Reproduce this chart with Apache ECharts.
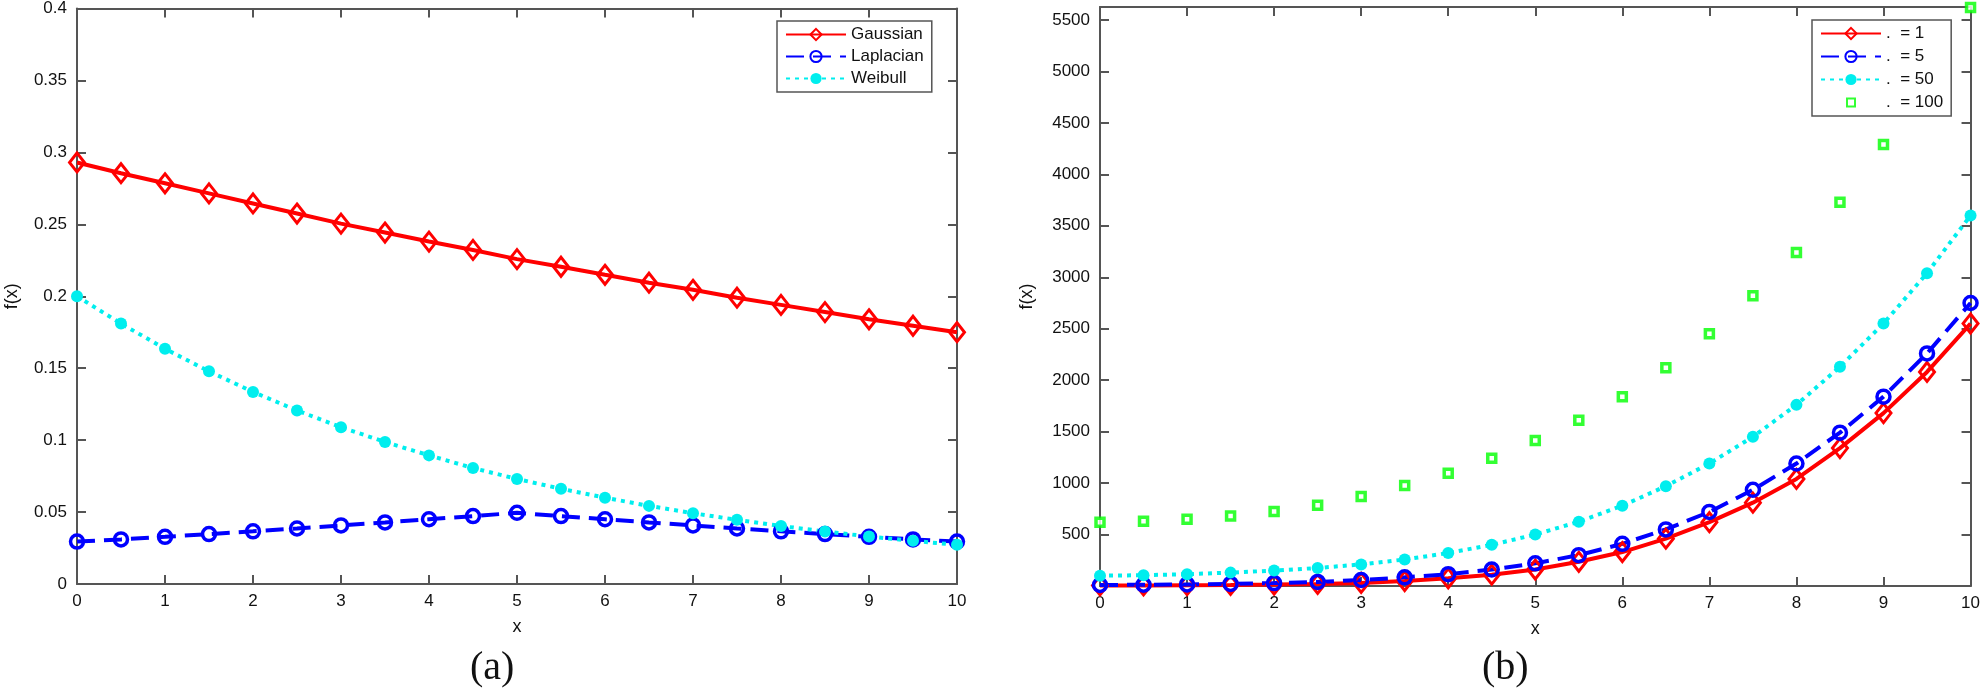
<!DOCTYPE html>
<html>
<head>
<meta charset="utf-8">
<script src="https://cdn.jsdelivr.net/npm/echarts@6/dist/echarts.min.js"></script>
<style>
html,body{margin:0;padding:0;background:#fff;}
#c{width:1983px;height:700px;}
</style>
</head>
<body>
<div id="c"></div>
<script>
// ---- data ----
const xValues = [0,0.5,1,1.5,2,2.5,3,3.5,4,4.5,5,5.5,6,6.5,7,7.5,8,8.5,9,9.5,10];
const xTicks = [0,1,2,3,4,5,6,7,8,9,10];
// panel (a)
const gaussian = [0.293,0.2855,0.2785,0.2715,0.2645,0.2575,0.2505,0.2443,0.238,0.2322,0.2258,0.2205,0.2149,0.2094,0.2045,0.199,0.194,0.189,0.184,0.1795,0.175];
const laplacian = [0.0295,0.031,0.0328,0.0347,0.0366,0.0386,0.0407,0.0428,0.045,0.0472,0.0495,0.0472,0.045,0.0428,0.0407,0.0386,0.0366,0.0347,0.0328,0.031,0.0295];
const weibull = [0.2,0.181,0.1635,0.1478,0.1335,0.1206,0.109,0.0987,0.0894,0.0806,0.073,0.0662,0.06,0.0543,0.0492,0.0446,0.0403,0.0365,0.033,0.03,0.0272];
const yTicksA = [0,0.05,0.1,0.15,0.2,0.25,0.3,0.35,0.4];
// panel (b)
const lambda1 = [5,6,8,10,14,20,30,48,75,110,160,235,330,460,620,810,1040,1340,1680,2080,2550];
const lambda5 = [10,12,15,20,28,40,58,84,115,160,220,300,410,550,720,935,1190,1490,1840,2260,2750];
const lambda50 = [100,105,115,130,150,175,210,258,320,400,500,625,780,970,1190,1450,1760,2130,2550,3040,3600];
const lambda100 = [620,630,648,680,725,785,870,976,1095,1241,1413,1610,1840,2120,2450,2820,3240,3730,4290,4920,5620];
const yTicksB = [500,1000,1500,2000,2500,3000,3500,4000,4500,5000,5500];
const namesA = ['Gaussian','Laplacian','Weibull'];
const namesB = ['.  = 1','.  = 5','.  = 50','.  = 100'];

const pairs = (ys) => xValues.map((x,i)=>[x, ys[i]]);

const FONT = '"Liberation Sans", Arial, sans-serif';
const AX = '#555555';
const RED = '#ff0000', BLUE = '#0000ff', CYAN = '#00eeee', GREEN = '#00ff00';

function xAxisPair(gi){
  return [
    {type:'value', gridIndex:gi, position:'bottom', min:0, max:10, interval:1,
     axisLine:{show:true,onZero:false,lineStyle:{color:AX,width:2}},
     axisTick:{show:true,inside:true,length:9,lineStyle:{color:AX,width:2}},
     axisLabel:{show:true,color:'#111',fontFamily:FONT,fontSize:17,margin:9},
     splitLine:{show:false},
     name:'x', nameLocation:'middle', nameGap:34,
     nameTextStyle:{color:'#111',fontFamily:FONT,fontSize:18}},
    {type:'value', gridIndex:gi, position:'top', min:0, max:10, interval:1,
     axisLine:{show:true,onZero:false,lineStyle:{color:AX,width:2}},
     axisTick:{show:true,inside:true,length:9,lineStyle:{color:AX,width:2}},
     axisLabel:{show:false}, splitLine:{show:false}}
  ];
}
function yAxisPair(gi, min, max, interval, fmt, gap){
  return [
    {type:'value', gridIndex:gi, position:'left', min:min, max:max, interval:interval,
     axisLine:{show:true,onZero:false,lineStyle:{color:AX,width:2}},
     axisTick:{show:true,inside:true,length:9,lineStyle:{color:AX,width:2}},
     axisLabel:{show:true,color:'#111',fontFamily:FONT,fontSize:17,margin:10,formatter:fmt,showMaxLabel:true},
     splitLine:{show:false},
     name:'f(x)', nameLocation:'middle', nameGap:gap, nameRotate:90,
     nameTextStyle:{color:'#111',fontFamily:FONT,fontSize:18}},
    {type:'value', gridIndex:gi, position:'right', min:min, max:max, interval:interval,
     axisLine:{show:true,onZero:false,lineStyle:{color:AX,width:2}},
     axisTick:{show:true,inside:true,length:9,lineStyle:{color:AX,width:2}},
     axisLabel:{show:false}, splitLine:{show:false}}
  ];
}

const fmtA = v => yTicksA.some(t => Math.abs(t - v) < 1e-9) ? String(+v.toFixed(2)) : '';
const fmtB = v => yTicksB.indexOf(Math.round(v)) >= 0 && Math.abs(Math.round(v)-v) < 1e-6 ? String(Math.round(v)) : '';

const chart = echarts.init(document.getElementById('c'), null, {renderer:'canvas'});

const legendBase = {
  orient:'vertical', backgroundColor:'#ffffff', borderColor:AX, borderWidth:1.5,
  itemWidth:60, itemHeight:14, itemGap:5, padding:[5,8,5,8],
  textStyle:{color:'#111',fontFamily:FONT,fontSize:17},
  selectedMode:false
};

const squareIcon = 'path://M0,0L0,0M3,3L11,3L11,11L3,11ZM14,14L14,14';

const option = {
  animation:false,
  grid:[
    {left:77, top:7, width:880, height:577, containLabel:false},
    {left:1100, top:7, width:872, height:579, containLabel:false}
  ],
  xAxis:[...xAxisPair(0), ...xAxisPair(1)],
  yAxis:[...yAxisPair(0, 0, 0.4, 0.05, fmtA, 56), ...yAxisPair(1, 0, 5626, 500, fmtB, 64)],
  legend:[
    Object.assign({}, legendBase, {left:777, top:21, data:namesA}),
    Object.assign({}, legendBase, {left:1812, top:20, itemGap:6,
      data:[namesB[0], namesB[1], namesB[2], {name:namesB[3], icon:squareIcon}]})
  ],
  series:[
    {name:namesA[0], type:'line', xAxisIndex:0, yAxisIndex:0, data:pairs(gaussian), clip:false,
     lineStyle:{color:RED,width:4}, symbol:'diamond', symbolSize:[15,19],
     itemStyle:{color:'rgba(255,255,255,0)',borderColor:RED,borderWidth:3}},
    {name:namesA[1], type:'line', xAxisIndex:0, yAxisIndex:0, data:pairs(laplacian), clip:false,
     lineStyle:{color:BLUE,width:4,type:[18,9]}, symbol:'circle', symbolSize:13,
     itemStyle:{color:'rgba(255,255,255,0)',borderColor:BLUE,borderWidth:3.5}},
    {name:namesA[2], type:'line', xAxisIndex:0, yAxisIndex:0, data:pairs(weibull), clip:false,
     lineStyle:{color:CYAN,width:4,type:[4,5]}, symbol:'circle', symbolSize:12,
     itemStyle:{color:CYAN,borderColor:CYAN,borderWidth:0}},
    {name:namesB[0], type:'line', xAxisIndex:2, yAxisIndex:2, data:pairs(lambda1), clip:false,
     lineStyle:{color:RED,width:4}, symbol:'diamond', symbolSize:[15,19],
     itemStyle:{color:'rgba(255,255,255,0)',borderColor:RED,borderWidth:3}},
    {name:namesB[1], type:'line', xAxisIndex:2, yAxisIndex:2, data:pairs(lambda5), clip:false,
     lineStyle:{color:BLUE,width:4,type:[18,9]}, symbol:'circle', symbolSize:13,
     itemStyle:{color:'rgba(255,255,255,0)',borderColor:BLUE,borderWidth:3.5}},
    {name:namesB[2], type:'line', xAxisIndex:2, yAxisIndex:2, data:pairs(lambda50), clip:false,
     lineStyle:{color:CYAN,width:4,type:[4,5]}, symbol:'circle', symbolSize:12,
     itemStyle:{color:CYAN,borderColor:CYAN,borderWidth:0}},
    {name:namesB[3], type:'scatter', xAxisIndex:2, yAxisIndex:2, data:pairs(lambda100), clip:false,
     symbol:'rect', symbolSize:8,
     itemStyle:{color:'#ffffff',borderColor:GREEN,borderWidth:3.5}}
  ],
  graphic:[
    {type:'text', left:487-17, top:648, style:{text:'(a)', font:'40px "Liberation Serif", "Times New Roman", serif', fill:'#111'}},
    {type:'text', left:1499-17, top:648, style:{text:'(b)', font:'40px "Liberation Serif", "Times New Roman", serif', fill:'#111'}}
  ]
};
chart.setOption(option);
</script>
</body>
</html>
